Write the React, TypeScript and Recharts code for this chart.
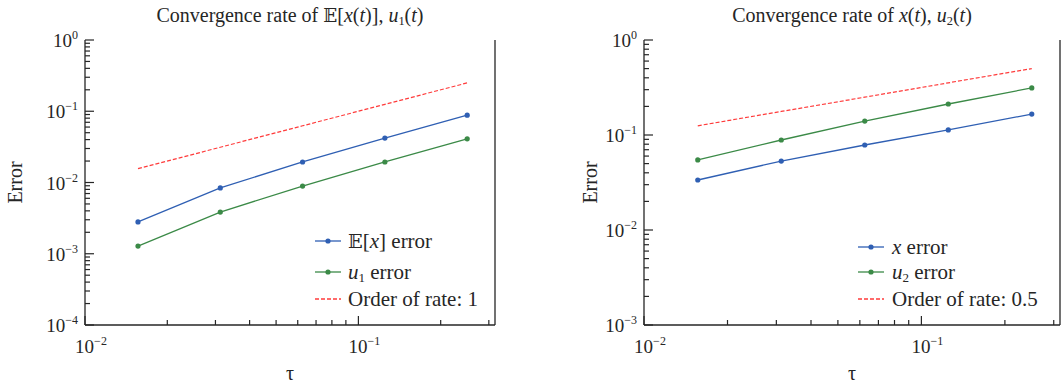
import React from 'react';
import { LineChart, Line, XAxis, YAxis, Legend } from 'recharts';

// ---------- data ----------
const tau = [0.015625, 0.03125, 0.0625, 0.125, 0.25];

// left panel: Convergence rate of E[x(t)], u1(t)
const leftMeanErr = [0.0028, 0.0084, 0.0194, 0.042, 0.088];
const leftU1Err = [0.00128, 0.00385, 0.0089, 0.0194, 0.041];
const leftRef = [0.015625, 0.03125, 0.0625, 0.125, 0.25];

// right panel: Convergence rate of x(t), u2(t)
const rightXErr = [0.0336, 0.0532, 0.0785, 0.113, 0.166];
const rightU2Err = [0.0546, 0.0886, 0.14, 0.212, 0.313];
const rightRef = [0.125, 0.177, 0.25, 0.354, 0.5];

// ticks
const xTicks = [0.01, 0.02, 0.03, 0.04, 0.05, 0.06, 0.07, 0.08, 0.09, 0.1, 0.2, 0.3];
const leftDecades = [-4, -3, -2, -1];
const rightDecades = [-3, -2, -1];
const minorMultipliers = [1, 2, 3, 4, 5, 6, 7, 8, 9];

const buildLogTicks = (decades: number[]) => {
  const out: number[] = [];
  decades.forEach((d) => minorMultipliers.forEach((m) => out.push(+(m * Math.pow(10, d)).toPrecision(6))));
  out.push(1);
  return out;
};
const leftYTicks = buildLogTicks(leftDecades);
const rightYTicks = buildLogTicks(rightDecades);

const leftNames = ['E[x] error', 'u1 error', 'Order of rate: 1'];
const rightNames = ['x error', 'u2 error', 'Order of rate: 0.5'];

const leftData = tau.map((t, i) => ({ tau: t, a: leftMeanErr[i], b: leftU1Err[i], r: leftRef[i] }));
const rightData = tau.map((t, i) => ({ tau: t, a: rightXErr[i], b: rightU2Err[i], r: rightRef[i] }));

// ---------- styles ----------
const FONT = '"Liberation Serif", "DejaVu Serif", serif';
const INK = '#262626';
const BLUE = '#2f5fb3';
const GREEN = '#3b8a47';
const RED = '#ff3b3b';

const isMajor = (v: number) => Math.abs(Math.log10(v) - Math.round(Math.log10(v))) < 1e-6;
const expText = (v: number) => {
  const e = Math.round(Math.log10(v));
  return e < 0 ? '\u2212' + String(-e) : String(e);
};

const XTick = (props: any) => {
  const { x, y, payload } = props;
  const v = payload.value;
  const major = isMajor(v);
  return (
    <g>
      <line x1={x} x2={x} y1={y} y2={y - (major ? 9 : 5)} stroke={INK} strokeWidth={1.2} />
      {major && (
        <text x={x + 6} y={y + 28} textAnchor="middle" fontFamily={FONT} fontSize={19} fill={INK}>
          10<tspan dy={-8} fontSize={12}>{expText(v)}</tspan>
        </text>
      )}
    </g>
  );
};

const YTick = (props: any) => {
  const { x, y, payload } = props;
  const v = payload.value;
  const major = isMajor(v);
  return (
    <g>
      <line x1={x} x2={x + (major ? 9 : 5)} y1={y} y2={y} stroke={INK} strokeWidth={1.2} />
      {major && (
        <text x={x - 7} y={y + 7} textAnchor="end" fontFamily={FONT} fontSize={19} fill={INK}>
          10<tspan dy={-8} fontSize={12}>{expText(v)}</tspan>
        </text>
      )}
    </g>
  );
};

const TauLabel = (props: any) => {
  const vb = props.viewBox || { x: 0, width: 0 };
  return (
    <text x={vb.x + vb.width / 2} y={380} textAnchor="middle" fontFamily={FONT} fontSize={20} fill={INK}>
      τ
    </text>
  );
};

const ErrorLabel = (props: any) => {
  const vb = props.viewBox || { y: 0, height: 0 };
  const cx = props.cx as number;
  const cy = vb.y + vb.height / 2;
  return (
    <text
      x={cx}
      y={cy}
      transform={`rotate(-90, ${cx}, ${cy})`}
      textAnchor="middle"
      dominantBaseline="central"
      fontFamily={FONT}
      fontSize={20}
      fill={INK}
    >
      Error
    </text>
  );
};

const LegendBox = (props: any) => {
  const { payload = [], names, labels, rowYs, lineX, textX } = props;
  return (
    <div style={{ position: 'relative', width: '100%', height: '100%', fontFamily: FONT, color: INK }}>
      {payload.map((entry: any, k: number) => {
        const i = names.indexOf(entry.value);
        if (i < 0) return null;
        const dashed = !!(entry.payload && entry.payload.strokeDasharray);
        const color = entry.color;
        return (
          <div key={k}>
            <svg
              style={{ position: 'absolute', left: lineX, top: rowYs[i] - 5, overflow: 'visible' }}
              width={26}
              height={10}
            >
              <line
                x1={0}
                x2={26}
                y1={5}
                y2={5}
                stroke={color}
                strokeWidth={1.3}
                strokeDasharray={dashed ? '4 2' : undefined}
              />
              {!dashed && <circle cx={13} cy={5} r={2.6} fill={color} />}
            </svg>
            <div
              style={{
                position: 'absolute',
                left: textX,
                top: rowYs[i] - 13,
                fontSize: 21,
                lineHeight: '26px',
                whiteSpace: 'nowrap',
              }}
            >
              {labels[i]}
            </div>
          </div>
        );
      })}
    </div>
  );
};

const BB = <span style={{ fontFamily: '"DejaVu Serif", "DejaVu Sans", serif', fontSize: '0.92em' }}>𝔼</span>;
const subStyle: React.CSSProperties = { fontSize: '0.62em', verticalAlign: '-0.25em' };

const leftLegendLabels = [
  <span>{BB}[<i>x</i>] error</span>,
  <span><i>u</i><span style={subStyle}>1</span> error</span>,
  <span>Order of rate: 1</span>,
];
const rightLegendLabels = [
  <span><i>x</i> error</span>,
  <span><i>u</i><span style={subStyle}>2</span> error</span>,
  <span>Order of rate: 0.5</span>,
];

const titleStyle = (left: number, width: number): React.CSSProperties => ({
  position: 'absolute',
  left,
  width,
  top: 2,
  textAlign: 'center',
  fontFamily: FONT,
  fontSize: 20,
  lineHeight: '26px',
  color: INK,
  whiteSpace: 'nowrap',
});

type PanelProps = {
  data: any[];
  width: number;
  yDomain: [number, number];
  yTicks: number[];
  yAxisWidth: number;
  rightMargin: number;
  errorX: number;
  names: string[];
  legendLabels: React.ReactNode[];
  legendRows: number[];
  legendLineX: number;
  legendTextX: number;
};

const Panel = (p: PanelProps) => (
  <LineChart
    width={p.width}
    height={387}
    data={p.data}
    margin={{ top: 40, right: p.rightMargin, bottom: 0, left: 0 }}
  >
    <XAxis
      dataKey="tau"
      type="number"
      scale="log"
      domain={[0.01, 0.316]}
      allowDataOverflow
      ticks={xTicks}
      interval={0}
      tick={<XTick />}
      tickLine={false}
      tickSize={0}
      tickMargin={0}
      height={62}
      axisLine={{ stroke: INK, strokeWidth: 1.3 }}
      label={<TauLabel />}
    />
    <XAxis
      xAxisId="top"
      orientation="top"
      dataKey="tau"
      type="number"
      scale="log"
      domain={[0.01, 0.316]}
      allowDataOverflow
      tick={false}
      tickLine={false}
      height={0}
      axisLine={{ stroke: INK, strokeWidth: 1.3 }}
    />
    <YAxis
      type="number"
      scale="log"
      domain={p.yDomain}
      allowDataOverflow
      ticks={p.yTicks}
      interval={0}
      tick={<YTick />}
      tickLine={false}
      tickSize={0}
      tickMargin={0}
      width={p.yAxisWidth}
      axisLine={{ stroke: INK, strokeWidth: 1.3 }}
      label={<ErrorLabel cx={p.errorX} />}
    />
    <YAxis
      yAxisId="right"
      orientation="right"
      type="number"
      scale="log"
      domain={p.yDomain}
      allowDataOverflow
      tick={false}
      tickLine={false}
      width={1}
      axisLine={{ stroke: INK, strokeWidth: 1.3 }}
    />
    <Legend
      layout="vertical"
      align="center"
      verticalAlign="middle"
      wrapperStyle={{ left: 0, top: 0, width: p.width, height: 387, pointerEvents: 'none' }}
      content={
        <LegendBox
          names={p.names}
          labels={p.legendLabels}
          rowYs={p.legendRows}
          lineX={p.legendLineX}
          textX={p.legendTextX}
        />
      }
    />
    <Line
      dataKey="a"
      name={p.names[0]}
      stroke={BLUE}
      strokeWidth={1.3}
      dot={{ r: 2.6, fill: BLUE, stroke: BLUE, strokeWidth: 0 }}
      isAnimationActive={false}
    />
    <Line
      dataKey="b"
      name={p.names[1]}
      stroke={GREEN}
      strokeWidth={1.3}
      dot={{ r: 2.6, fill: GREEN, stroke: GREEN, strokeWidth: 0 }}
      isAnimationActive={false}
    />
    <Line
      dataKey="r"
      name={p.names[2]}
      stroke={RED}
      strokeWidth={1.2}
      strokeDasharray="4 2"
      dot={false}
      isAnimationActive={false}
    />
  </LineChart>
);

export default function App() {
  return (
    <div style={{ position: 'absolute', left: 0, top: 0, width: 1061, height: 387, background: '#fff', overflow: 'hidden' }}>
      <div style={{ position: 'absolute', left: 0, top: 0, width: 530, height: 387 }}>
        <Panel
          data={leftData}
          width={530}
          yDomain={[0.0001, 1]}
          yTicks={leftYTicks}
          yAxisWidth={85}
          rightMargin={34}
          errorX={15}
          names={leftNames}
          legendLabels={leftLegendLabels}
          legendRows={[241, 272, 299]}
          legendLineX={315}
          legendTextX={348}
        />
        <div style={titleStyle(85, 410)}>
          Convergence rate of {BB}[<i>x</i>(<i>t</i>)], <i>u</i><span style={subStyle}>1</span>(<i>t</i>)
        </div>
      </div>
      <div style={{ position: 'absolute', left: 530, top: 0, width: 531, height: 387 }}>
        <Panel
          data={rightData}
          width={531}
          yDomain={[0.001, 1]}
          yTicks={rightYTicks}
          yAxisWidth={114}
          rightMargin={0}
          errorX={60}
          names={rightNames}
          legendLabels={rightLegendLabels}
          legendRows={[247, 272, 299]}
          legendLineX={328}
          legendTextX={362}
        />
        <div style={titleStyle(114, 416)}>
          Convergence rate of <i>x</i>(<i>t</i>), <i>u</i><span style={subStyle}>2</span>(<i>t</i>)
        </div>
      </div>
    </div>
  );
}
